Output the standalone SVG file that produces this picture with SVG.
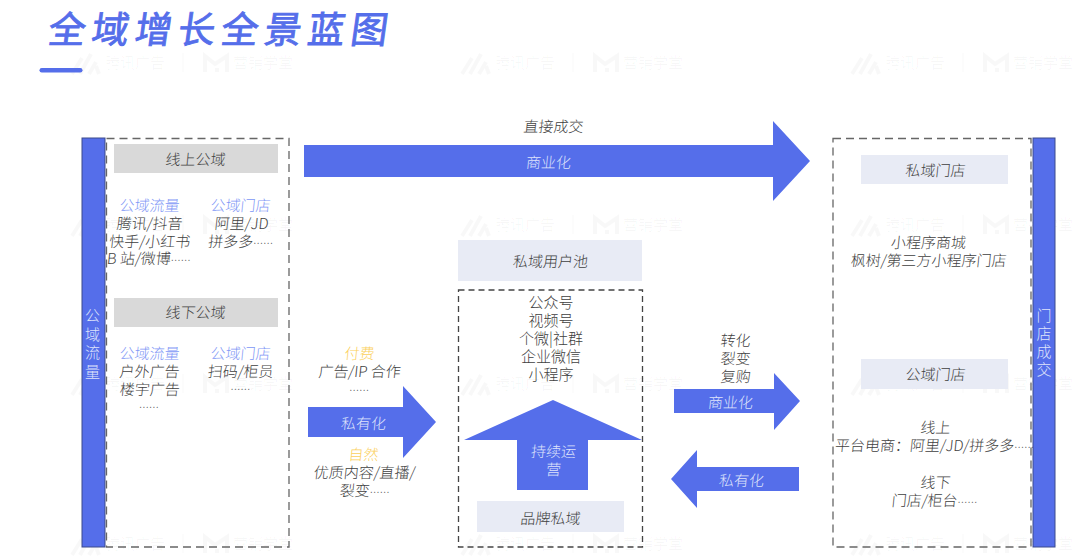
<svg xmlns="http://www.w3.org/2000/svg" width="1080" height="557" viewBox="0 0 1080 557">
<style>
text{font-family:"Noto Sans CJK SC","Liberation Sans",sans-serif;font-size:15px;font-weight:300;text-anchor:middle;fill:#3f3f3f}
.w{fill:#dfe3fb}
.b{fill:#8197f6}
.y{fill:#fbd05c}
.d{font-size:10px}
.wm{fill:#000;fill-opacity:.035;font-weight:400;text-anchor:start;font-size:15px}
.arrow{fill:#556eea}
.bar{fill:#556eea;stroke:#3d4a8c;stroke-width:1}
.dash{fill:none;stroke:#666;stroke-width:1.3;stroke-dasharray:8 5}
.g{fill:#d9d9d9}
.l{fill:#e8ebf5}
.mk{fill:none;stroke:#000;stroke-opacity:.028;stroke-width:4}
</style>
<defs>
<g id="mark">
<path class="mk" d="M-33 12L-23 -4M-25 12L-14 -8M-16 12L-9 0M-9 4L-6 12"/>
<text class="wm" x="0" y="6">腾讯广告</text>
<path class="mk" d="M78 -9V10" style="stroke-width:1"/>
<path class="mk" d="M100 10V-6L110 2L122 -6V10M112 10V6"/>
<text class="wm" x="128" y="6">营销学堂</text>
</g>
</defs>
<g id="watermarks">
<use href="#mark" x="105" y="62"/><use href="#mark" x="495" y="62"/><use href="#mark" x="885" y="62"/>
<use href="#mark" x="105" y="224"/><use href="#mark" x="495" y="224"/><use href="#mark" x="885" y="224"/>
<use href="#mark" x="105" y="383"/><use href="#mark" x="495" y="383"/><use href="#mark" x="885" y="383"/>
<use href="#mark" x="105" y="543"/><use href="#mark" x="495" y="543"/><use href="#mark" x="885" y="543"/>
</g>
<g id="title">
<text transform="translate(47,43) skewX(-8)" style="font-size:37px;font-weight:400;fill:#556eea;stroke:#556eea;stroke-width:.9px;text-anchor:start;letter-spacing:6.200px">全域增长全景蓝图</text>
<rect x="39.500" y="68" width="43" height="4.500" rx="2.200" fill="#556eea"/>
</g>
<g id="connectors">
<path class="arrow" d="M304 145H773V121L810 161L773 201V177H304Z"/>
<path class="arrow" d="M308 407H403V386L436 422L403 458V437H308Z"/>
<path class="arrow" d="M553 400L642 440H588V490H517V440H464Z"/>
<path class="arrow" d="M674 389H774V373L800 401L774 430V413H674Z"/>
<path class="arrow" d="M799 467H697V450L671 479L697 508V491H799Z"/>
<text transform="translate(548,168) skewX(-6)" class="w">商业化</text>
<text transform="translate(363,429) skewX(-6)" class="w">私有化</text>
<text transform="translate(730,408) skewX(-6)" class="w">商业化</text>
<text transform="translate(741,486) skewX(-6)" class="w">私有化</text>
<text transform="translate(553,457) skewX(-6)" class="w"><tspan x="0">持续运</tspan><tspan x="2" dy="18">营</tspan></text>
<text transform="translate(553,132) skewX(-6)">直接成交</text>
<text transform="translate(359,359) skewX(-6)"><tspan x="0" class="y">付费</tspan><tspan x="2" dy="18">广告/IP 合作</tspan><tspan x="3.500" dy="17" class="d">……</tspan></text>
<text transform="translate(363,460) skewX(-6)"><tspan x="0" class="y">自然</tspan><tspan x="3" dy="18">优质内容/直播/</tspan><tspan x="5" dy="18">裂变<tspan class="d">……</tspan></tspan></text>
<text transform="translate(735,346) skewX(-6)"><tspan x="0">转化</tspan><tspan x="2" dy="18">裂变</tspan><tspan x="4" dy="18">复购</tspan></text>
</g>
<g id="public-flow-bar">
<rect class="bar" x="82" y="138" width="23" height="409"/>
<text class="w"><tspan x="92.500" y="321">公</tspan><tspan x="92.500" dy="18.500">域</tspan><tspan x="92.500" dy="18.500">流</tspan><tspan x="92.500" dy="18.500">量</tspan></text>
</g>
<g id="public-domain">
<rect class="dash" x="106.500" y="138.500" width="182.500" height="408.500"/>
<rect class="g" x="114" y="144" width="164" height="29"/>
<text transform="translate(195,165) skewX(-6)">线上公域</text>
<text transform="translate(149,211) skewX(-6)"><tspan x="0" class="b">公域流量</tspan><tspan x="2" dy="18">腾讯/抖音</tspan><tspan x="4" dy="18">快手/小红书</tspan><tspan x="5" dy="17">B 站/微博<tspan class="d">……</tspan></tspan></text>
<text transform="translate(240,211) skewX(-6)"><tspan x="0" class="b">公域门店</tspan><tspan x="3" dy="18">阿里/JD</tspan><tspan x="4" dy="18">拼多多<tspan class="d">……</tspan></tspan></text>
<rect class="g" x="114" y="298" width="164" height="29"/>
<text transform="translate(195,318) skewX(-6)">线下公域</text>
<text transform="translate(149,359) skewX(-6)"><tspan x="0" class="b">公域流量</tspan><tspan x="2" dy="18">户外广告</tspan><tspan x="4" dy="18">楼宇广告</tspan><tspan x="5" dy="16" class="d">……</tspan></text>
<text transform="translate(240,359) skewX(-6)"><tspan x="0" class="b">公域门店</tspan><tspan x="2" dy="18">扫码/柜员</tspan><tspan x="3.500" dy="16" class="d">……</tspan></text>
</g>
<g id="private-pool">
<rect class="l" x="458" y="240" width="184" height="41"/>
<text transform="translate(550,267) skewX(-6)">私域用户池</text>
<rect class="dash" x="458.500" y="290" width="184" height="257" style="stroke-dasharray:6 4;stroke:#444"/>
<text><tspan x="551" y="308">公众号</tspan><tspan x="551" dy="18">视频号</tspan><tspan x="551" dy="18">个微|社群</tspan><tspan x="551" dy="18">企业微信</tspan><tspan x="551" dy="18">小程序</tspan></text>
<rect class="l" x="477" y="501" width="147" height="31"/>
<text transform="translate(550,524) skewX(-6)">品牌私域</text>
</g>
<g id="store-domain">
<rect class="dash" x="833" y="138.500" width="198" height="408.500"/>
<rect class="l" x="861" y="155" width="147" height="29"/>
<text transform="translate(935,176) skewX(-6)">私域门店</text>
<text transform="translate(928,248) skewX(-6)"><tspan x="0">小程序商城</tspan><tspan x="2" dy="18">枫树/第三方小程序门店</tspan></text>
<rect class="l" x="861" y="359" width="147" height="30"/>
<text transform="translate(935,380) skewX(-6)">公域门店</text>
<text transform="translate(935,433) skewX(-6)"><tspan x="0">线上</tspan><tspan x="1" dy="18">平台电商：阿里/JD/拼多多<tspan class="d">……</tspan></tspan></text>
<text transform="translate(935,488) skewX(-6)"><tspan x="0">线下</tspan><tspan x="1" dy="18">门店/柜台<tspan class="d">……</tspan></tspan></text>
</g>
<g id="store-deal-bar">
<rect class="bar" x="1033" y="138" width="22" height="409"/>
<text class="w"><tspan x="1044" y="321">门</tspan><tspan x="1044" dy="18">店</tspan><tspan x="1044" dy="18">成</tspan><tspan x="1044" dy="18">交</tspan></text>
</g>
</svg>
